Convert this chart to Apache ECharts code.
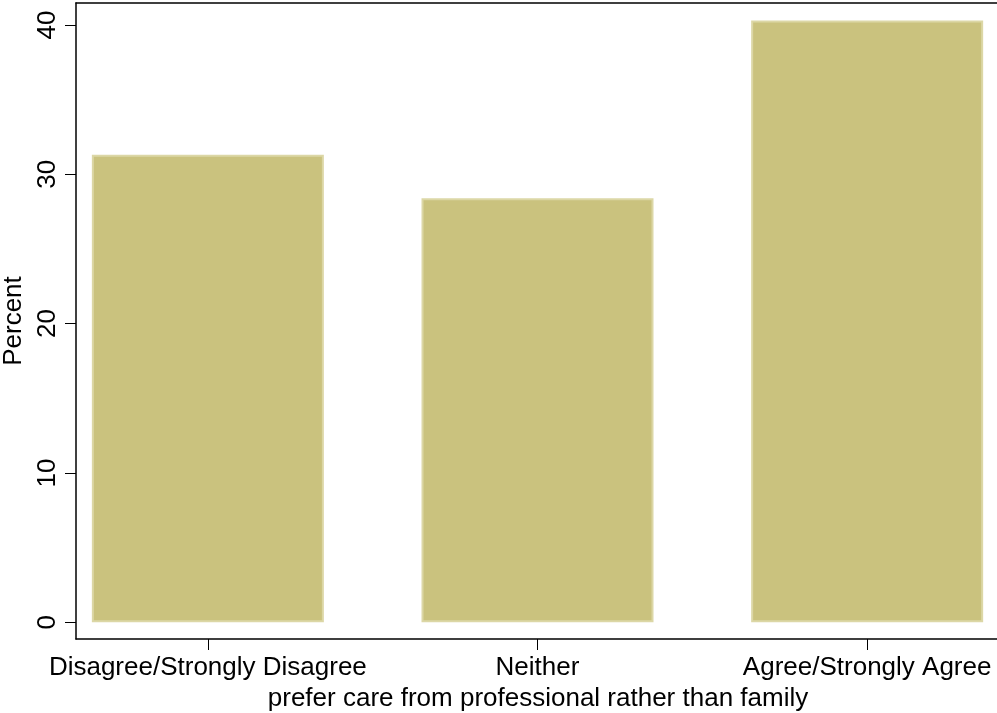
<!DOCTYPE html>
<html>
<head>
<meta charset="utf-8">
<script src="https://cdn.jsdelivr.net/npm/echarts@6/dist/echarts.min.js"></script>
<style>html,body{margin:0;padding:0;background:#fff}#c{width:997px;height:713px}</style>
</head>
<body>
<div id="c"></div>
<script>
const categories = ['Disagree/Strongly Disagree', 'Neither', 'Agree/Strongly Agree'];
const percentValues = [31.3, 28.4, 40.3];
const yTicks = [0, 10, 20, 30, 40];
const xTitle = 'prefer care from professional rather than family';
const yTitle = 'Percent';

const positions = categories.map((c, i) => i + 1);
const font = '"Liberation Sans", Arial, Helvetica, sans-serif';
const fs = 26;
const chart = echarts.init(document.getElementById('c'), null, {renderer: 'canvas'});
chart.setOption({
  animation: false,
  backgroundColor: '#fff',
  grid: {left: 76, top: 3, right: -3, bottom: 74, show: false,
    containLabel: false, outerBoundsMode: 'none'},
  xAxis: [{
    type: 'value', min: 0.6, max: 3.403,
    name: xTitle, nameLocation: 'middle', nameGap: 41,
    nameTextStyle: {fontFamily: font, fontSize: fs, color: '#000'},
    axisLine: {show: true, onZero: false, lineStyle: {color: '#000', width: 1.5}},
    axisTick: {show: true, length: 11, lineStyle: {color: '#000', width: 1}, customValues: positions},
    axisLabel: {show: true, margin: 16, fontFamily: font, fontSize: fs, color: '#000',
      customValues: positions, formatter: v => categories[Math.round(v) - 1] || ''},
    splitLine: {show: false}
  }, {
    type: 'value', position: 'top', min: 0.6, max: 3.403,
    axisLine: {show: true, onZero: false, lineStyle: {color: '#000', width: 1.5}},
    axisTick: {show: false}, axisLabel: {show: false}, splitLine: {show: false}
  }],
  yAxis: {
    type: 'value', min: -1.12, max: 41.47,
    name: yTitle, nameLocation: 'middle', nameGap: 42, nameRotate: 90,
    nameTextStyle: {fontFamily: font, fontSize: fs, color: '#000'},
    axisLine: {show: true, onZero: false, lineStyle: {color: '#000', width: 1.5}},
    axisTick: {show: true, length: 11, lineStyle: {color: '#000', width: 1}, customValues: yTicks},
    axisLabel: {show: true, rotate: 90, margin: 15, fontFamily: font, fontSize: fs, color: '#000', customValues: yTicks},
    splitLine: {show: false}
  },
  series: [{
    type: 'bar',
    xAxisIndex: 0,
    data: positions.map((p, i) => [p, percentValues[i]]),
    barWidth: 232,
    itemStyle: {color: '#CAC27E', borderColor: '#DCD7A6', borderWidth: 2}
  }]
});
</script>
</body>
</html>
